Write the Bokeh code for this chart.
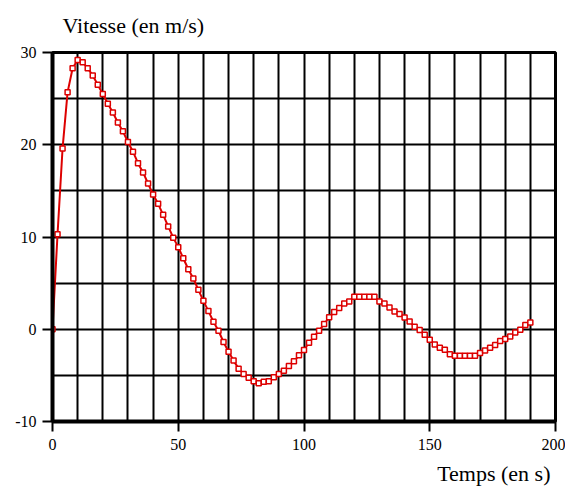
from bokeh.plotting import figure
from bokeh.models import SingleIntervalTicker, Range1d, Title, PrintfTickFormatter
from bokeh.embed import file_html
from bokeh.resources import INLINE

# Time (s) and speed (m/s)
temps = list(range(0, 192, 2))
vitesse = [
    0.0, 10.3, 19.6, 25.7, 28.3, 29.2, 28.95, 28.3, 27.5, 26.5,
    25.5, 24.45, 23.5, 22.4, 21.45, 20.3, 19.25, 18.0, 17.0, 15.8,
    14.6, 13.6, 12.4, 11.15, 9.93, 8.9, 7.7, 6.5, 5.5, 4.27,
    3.08, 1.97, 0.81, -0.16, -1.38, -2.43, -3.4, -4.27, -4.84, -5.27,
    -5.64, -5.86, -5.7, -5.64, -5.2, -4.84, -4.49, -3.98, -3.48, -2.83,
    -2.25, -1.46, -0.81, -0.16, 0.56, 1.3, 1.86, 2.29, 2.79, 3.0,
    3.51, 3.51, 3.51, 3.51, 3.51, 3.0, 2.79, 2.36, 1.93, 1.64,
    1.27, 0.84, 0.27, -0.09, -0.6, -1.15, -1.64, -2.0, -2.22, -2.72,
    -2.86, -2.86, -2.86, -2.86, -2.86, -2.57, -2.29, -2.0, -1.71, -1.28,
    -1.06, -0.78, -0.35, -0.06, 0.45, 0.74,
]
titre_y = "Vitesse (en m/s)"
titre_x = "Temps (en s)"

FONT = "'Liberation Serif', 'Times New Roman', serif"
RED = "#dd0000"

p = figure(width=565, height=491, output_backend="svg", toolbar_location=None,
           x_range=Range1d(0, 200), y_range=Range1d(-10, 30),
           min_border_left=52, min_border_right=10,
           min_border_top=51, min_border_bottom=70)
p.background_fill_color = "white"
p.border_fill_color = "white"
p.outline_line_color = "black"
p.outline_line_width = 3
p.outline_line_alpha = 1

# grids
p.xgrid.ticker = SingleIntervalTicker(interval=10)
p.ygrid.ticker = SingleIntervalTicker(interval=5)
for g in (p.xgrid, p.ygrid):
    g.grid_line_color = "black"
    g.grid_line_width = 2
    g.grid_line_alpha = 1

# axes
p.xaxis.ticker = SingleIntervalTicker(interval=50)
p.yaxis.ticker = SingleIntervalTicker(interval=10)
for ax in (p.xaxis, p.yaxis):
    ax.formatter = PrintfTickFormatter(format="%d")
    ax.axis_line_width = 4
    ax.axis_line_color = "black"
    ax.major_tick_line_width = 2
    ax.major_tick_line_color = "black"
    ax.major_tick_out = 10
    ax.major_tick_in = 0
    ax.minor_tick_line_color = None
    ax.major_label_text_font = FONT
    ax.major_label_text_font_size = "16px"
    ax.major_label_text_color = "black"
p.xaxis.major_label_standoff = 7
p.yaxis.major_label_standoff = 6

p.line(temps, vitesse, line_color=RED, line_width=2)
p.scatter(temps, vitesse, marker="square", size=5, line_color=RED,
          line_width=1.5, fill_color="white")

p.add_layout(Title(text=titre_y, align="left", offset=10, standoff=25,
                   vertical_align="top",
                   text_font=FONT, text_font_size="22px",
                   text_font_style="normal", text_color="black"), "above")
p.add_layout(Title(text=titre_x, align="right", offset=5, standoff=12,
                   vertical_align="bottom",
                   text_font=FONT, text_font_size="22px",
                   text_font_style="normal", text_color="black"), "below")

open("out.html", "w").write(file_html(p, INLINE))
